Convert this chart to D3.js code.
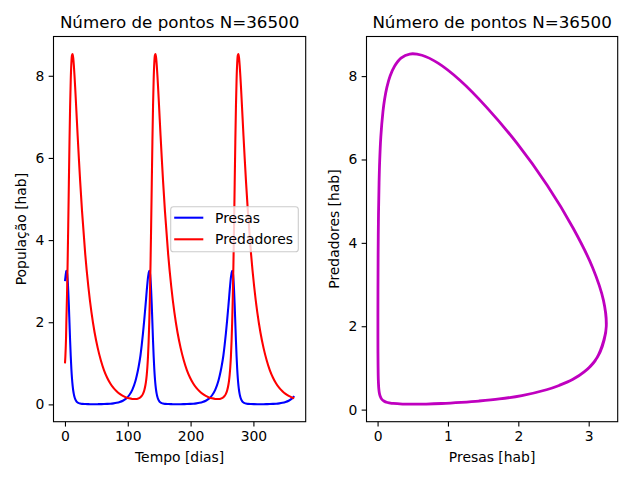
<!DOCTYPE html>
<html><head><meta charset="utf-8">
<script src="https://cdn.jsdelivr.net/npm/d3@7"></script>
<style>body{margin:0;background:#fff}svg{display:block}text{font-family:"DejaVu Sans",sans-serif}</style>
</head><body><svg id="c" width="640" height="480"></svg>
<script>
const tempo = [
0,0.6,1.2,1.8,
2.2,3.2,4.2,5.2,6.2,7.2,8.2,9.2,10.2,11.2,12.2,13.2,14.2,15.2,16.2,17.2,18.2,20.2,22.2,24.2,27.2,32.2,37.2,42.2,47.2,52.2,57.2,62.2,67.2,72.2,77.2,82.2,87.2,92.2,97.2,102.2,107.2,112.2,114.2,117.2,120.2,122.2,124.2,126.2,128.2,129.2,130.2,131.2,132.2,133.2,
134.2,135.2,136.2,137.2,138.2,139.2,140.2,141.2,142.2,143.2,144.2,145.2,146.2,147.2,148.2,149.2,150.2,152.2,154.2,156.2,159.2,164.2,169.2,174.2,179.2,184.2,189.2,194.2,199.2,204.2,209.2,214.2,219.2,224.2,229.2,234.2,239.2,244.2,246.2,249.2,252.2,254.2,256.2,258.2,260.2,261.2,262.2,263.2,264.2,265.2,
266.2,267.2,268.2,269.2,270.2,271.2,272.2,273.2,274.2,275.2,276.2,277.2,278.2,279.2,280.2,281.2,282.2,284.2,286.2,288.2,291.2,296.2,301.2,306.2,311.2,316.2,321.2,326.2,331.2,336.2,341.2,346.2,351.2,356.2,361.2,365
];
const presas = [
3.0,3.08,3.16,3.22,
3.25,3.21,3.055,2.78,2.41,1.98,1.55,1.17,0.86,0.63,0.456,0.332,0.243,0.178,0.132,0.099,0.076,0.046,0.030,0.021,0.013,0.0075,0.0055,0.0048,0.0048,0.0054,0.0068,0.0086,0.012,0.0168,0.025,0.0374,0.057,0.089,0.14,0.223,0.355,0.57,0.69,0.91,1.19,1.44,1.73,2.05,2.40,2.58,2.77,2.94,3.09,3.19,
3.25,3.21,3.055,2.78,2.41,1.98,1.55,1.17,0.86,0.63,0.456,0.332,0.243,0.178,0.132,0.099,0.076,0.046,0.030,0.021,0.013,0.0075,0.0055,0.0048,0.0048,0.0054,0.0068,0.0086,0.012,0.0168,0.025,0.0374,0.057,0.089,0.14,0.223,0.355,0.57,0.69,0.91,1.19,1.44,1.73,2.05,2.40,2.58,2.77,2.94,3.09,3.19,
3.25,3.21,3.055,2.78,2.41,1.98,1.55,1.17,0.86,0.63,0.456,0.332,0.243,0.178,0.132,0.099,0.076,0.046,0.030,0.021,0.013,0.0075,0.0055,0.0048,0.0048,0.0054,0.0068,0.0086,0.012,0.0168,0.025,0.0374,0.057,0.089,0.14,0.20
];
const predadores = [
1.0,1.15,1.37,1.67,
2.0,2.62,3.41,4.35,5.38,6.39,7.25,7.90,8.31,8.50,8.53,8.43,8.24,8.00,7.73,7.44,7.14,6.54,5.97,5.43,4.70,3.67,2.87,2.24,1.75,1.37,1.07,0.83,0.65,0.51,0.40,0.32,0.255,0.206,0.17,0.147,0.133,0.130,0.133,0.147,0.175,0.206,0.255,0.337,0.477,0.58,0.72,0.91,1.17,1.53,
2.0,2.62,3.41,4.35,5.38,6.39,7.25,7.90,8.31,8.50,8.53,8.43,8.24,8.00,7.73,7.44,7.14,6.54,5.97,5.43,4.70,3.67,2.87,2.24,1.75,1.37,1.07,0.83,0.65,0.51,0.40,0.32,0.255,0.206,0.17,0.147,0.133,0.130,0.133,0.147,0.175,0.206,0.255,0.337,0.477,0.58,0.72,0.91,1.17,1.53,
2.0,2.62,3.41,4.35,5.38,6.39,7.25,7.90,8.31,8.50,8.53,8.43,8.24,8.00,7.73,7.44,7.14,6.54,5.97,5.43,4.70,3.67,2.87,2.24,1.75,1.37,1.07,0.83,0.65,0.51,0.40,0.32,0.255,0.206,0.17,0.152
];
const titulo = "Número de pontos N=36500";
const ticksTempo = [0,100,200,300];
const ticksPop = [0,2,4,6,8];
const ticksPresas = [0,1,2,3];
const ticksPred = [0,2,4,6,8];
const legenda = ["Presas","Predadores"];
const rotulos = {xL:"Tempo [dias]", yL:"População [hab]", xR:"Presas [hab]", yR:"Predadores [hab]"};

const FS = 13.9, TFS = 16.7, TL = 4.86;
const svg = d3.select("#c");
svg.append("rect").attr("width",640).attr("height",480).attr("fill","#fff");

function pad(e){const s=e[1]-e[0];return [e[0]-0.05*s,e[1]+0.05*s];}
const L = {x0:53.5, x1:305.7, y0:36.5, y1:421.7};
const R = {x0:366.5, x1:617.7, y0:36.5, y1:421.7};

const xL = d3.scaleLinear().domain(pad(d3.extent(tempo))).range([L.x0,L.x1]);
const yL = d3.scaleLinear().domain(pad(d3.extent(presas.concat(predadores)))).range([L.y1,L.y0]);
const xR = d3.scaleLinear().domain(pad(d3.extent(presas))).range([R.x0,R.x1]);
const yR = d3.scaleLinear().domain(pad(d3.extent(predadores))).range([R.y1,R.y0]);

const defs = svg.append("defs");
[["clipL",L],["clipR",R]].forEach(([id,b])=>{
  defs.append("clipPath").attr("id",id).append("rect")
    .attr("x",b.x0).attr("y",b.y0).attr("width",b.x1-b.x0).attr("height",b.y1-b.y0);
});

function axes(b, xs, ys, xt, yt, xlab, ylab, ylabX){
  const gx = svg.append("g").attr("transform",`translate(0,${b.y1})`)
    .call(d3.axisBottom(xs).tickValues(xt).tickSize(TL).tickPadding(TL-0.5).tickFormat(d3.format("d")));
  const gy = svg.append("g").attr("transform",`translate(${b.x0},0)`)
    .call(d3.axisLeft(ys).tickValues(yt).tickSize(TL).tickPadding(TL-0.5).tickFormat(d3.format("d")));
  [gx,gy].forEach(g=>{
    g.select(".domain").remove();
    g.selectAll("line").attr("stroke","#000").attr("stroke-width",1.1);
    g.selectAll("text").attr("font-size",FS).attr("font-family","DejaVu Sans").attr("fill","#000");
  });
  svg.append("text").attr("x",(b.x0+b.x1)/2).attr("y",461.5).attr("text-anchor","middle")
    .attr("font-size",FS).text(xlab);
  svg.append("text").attr("transform",`translate(${ylabX},${(b.y0+b.y1)/2}) rotate(-90)`)
    .attr("text-anchor","middle").attr("font-size",FS).text(ylab);
  svg.append("text").attr("x",(b.x0+b.x1)/2).attr("y",28).attr("text-anchor","middle")
    .attr("font-size",TFS).text(titulo);
}

// left panel lines
const lineP = d3.line().x((d,i)=>xL(tempo[i])).y(d=>yL(d)).curve(d3.curveMonotoneX);
const gL = svg.append("g").attr("clip-path","url(#clipL)");
gL.append("path").attr("d",lineP(presas)).attr("fill","none").attr("stroke","#0000ff").attr("stroke-width",2.08).attr("stroke-linejoin","round");
gL.append("path").attr("d",lineP(predadores)).attr("fill","none").attr("stroke","#ff0000").attr("stroke-width",2.08).attr("stroke-linejoin","round");

// right panel phase
const lineF = d3.line().x((d,i)=>xR(presas[i])).y((d,i)=>yR(predadores[i])).curve(d3.curveCatmullRom.alpha(0.5));
const gR = svg.append("g").attr("clip-path","url(#clipR)");
gR.append("path").attr("d",lineF(presas)).attr("fill","none").attr("stroke","#bf00bf").attr("stroke-width",2.8).attr("stroke-linejoin","round");

axes(L,xL,yL,ticksTempo,ticksPop,rotulos.xL,rotulos.yL,26);
axes(R,xR,yR,ticksPresas,ticksPred,rotulos.xR,rotulos.yR,339);

// frames
[L,R].forEach(b=>{
  svg.append("rect").attr("x",b.x0).attr("y",b.y0).attr("width",b.x1-b.x0).attr("height",b.y1-b.y0)
    .attr("fill","none").attr("stroke","#000").attr("stroke-width",1.1);
});

// legend
const lg = svg.append("g");
lg.append("rect").attr("x",170.7).attr("y",206.7).attr("width",127.6).attr("height",45).attr("rx",2.8)
  .attr("fill","#fff").attr("fill-opacity",0.8).attr("stroke","#cccccc").attr("stroke-width",1.1);
const cores = ["#0000ff","#ff0000"];
legenda.forEach((n,i)=>{
  const y = 217.7 + i*21.6;
  lg.append("line").attr("x1",174.2).attr("x2",203.3).attr("y1",y).attr("y2",y)
    .attr("stroke",cores[i]).attr("stroke-width",2.08);
  lg.append("text").attr("x",215).attr("y",y+5).attr("font-size",FS).text(n);
});
</script></body></html>
